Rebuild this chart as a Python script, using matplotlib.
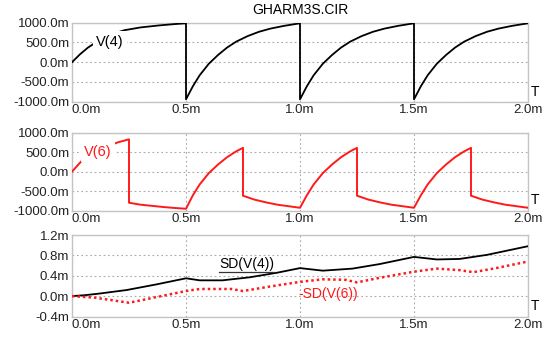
import numpy as np
import matplotlib
matplotlib.use('Agg')
import matplotlib.pyplot as plt
from matplotlib.lines import Line2D

plt.rcParams['font.family'] = ['Liberation Sans', 'DejaVu Sans']

# time in ms, voltages in mV (axis labels carry the "m")
t4 = [0.0, 0.035, 0.07, 0.12, 0.17, 0.23, 0.30, 0.38, 0.45, 0.50,
      0.50, 0.53, 0.56, 0.60, 0.64, 0.68, 0.72, 0.77, 0.82, 0.87, 0.93, 1.00,
      1.00, 1.03, 1.06, 1.10, 1.14, 1.18, 1.22, 1.27, 1.32, 1.37, 1.43, 1.50,
      1.50, 1.53, 1.56, 1.60, 1.64, 1.68, 1.72, 1.77, 1.82, 1.87, 1.93, 2.00]
v4 = [0, 200, 370, 560, 700, 810, 880, 930, 965, 985,
      -940, -610, -330, -40, 180, 370, 520, 660, 770, 850, 920, 985,
      -940, -610, -330, -40, 180, 370, 520, 660, 770, 850, 920, 985,
      -940, -610, -330, -40, 180, 370, 520, 660, 770, 850, 920, 985]

t6 = [0.0, 0.04, 0.08, 0.12, 0.164, 0.20, 0.25,
      0.25, 0.30, 0.35, 0.40, 0.45, 0.50,
      0.53, 0.56, 0.60, 0.64, 0.68, 0.72, 0.75,
      0.75, 0.80, 0.85, 0.90, 0.95, 1.00,
      1.03, 1.06, 1.10, 1.14, 1.18, 1.22, 1.25,
      1.25, 1.30, 1.35, 1.40, 1.45, 1.50,
      1.53, 1.56, 1.60, 1.64, 1.68, 1.72, 1.75,
      1.75, 1.80, 1.85, 1.90, 1.95, 2.00]
v6 = [0, 260, 430, 560, 667, 750, 830,
      -800, -850, -880, -910, -935, -955,
      -610, -330, -40, 180, 370, 520, 610,
      -620, -720, -790, -850, -890, -930,
      -610, -330, -40, 180, 370, 520, 610,
      -620, -720, -790, -850, -890, -930,
      -610, -330, -40, 180, 370, 520, 610,
      -620, -720, -790, -850, -890, -930]

t_sd4 = [0.0, 0.06, 0.12, 0.24, 0.37, 0.50, 0.56, 0.66, 0.78, 0.90, 1.00,
         1.10, 1.23, 1.35, 1.50, 1.60, 1.70, 1.82, 2.00]
sd4 = [0.0, 0.02, 0.05, 0.12, 0.23, 0.35, 0.31, 0.31, 0.37, 0.46, 0.55,
       0.50, 0.54, 0.63, 0.77, 0.72, 0.73, 0.81, 0.98]

t_sd6 = [0.0, 0.10, 0.25, 0.50, 0.56, 0.70, 0.75, 0.87, 1.00, 1.10, 1.20,
         1.25, 1.35, 1.50, 1.60, 1.70, 1.76, 1.86, 2.00]
sd6 = [0.0, -0.03, -0.13, 0.10, 0.14, 0.14, 0.10, 0.19, 0.28, 0.33, 0.32,
       0.27, 0.36, 0.48, 0.54, 0.51, 0.47, 0.55, 0.68]

xticks = [0.0, 0.5, 1.0, 1.5, 2.0]
vticks = [-1000, -500, 0, 500, 1000]
sdticks = [-0.4, 0.0, 0.4, 0.8, 1.2]

W, H = 544, 338
fig = plt.figure(figsize=(W / 100, H / 100), dpi=100)
left, width = 72 / W, 456 / W
ax1 = fig.add_axes([left, 1 - 101.7 / H, width, 79 / H])
ax2 = fig.add_axes([left, 1 - 210.5 / H, width, 77.8 / H])
ax3 = fig.add_axes([left, 1 - 316.5 / H, width, 81.5 / H])

grid_col = '#a8a8a8'
for ax in (ax1, ax2, ax3):
    ax.set_xlim(0, 2.0)
    ax.set_xticks(xticks)
    ax.set_xticklabels(['%.1fm' % x for x in xticks], fontsize=9.5)
    ax.get_xticklabels()[0].set_ha('left')
    ax.tick_params(length=0, pad=2, labelsize=9.5, colors='#222222')
    for sp in ax.spines.values():
        sp.set_color('#c4c4c4')
        sp.set_linewidth(1.0)
    ax.grid(True, color=grid_col, linestyle=(0, (1.5, 2.5)), linewidth=0.8)
    ax.set_axisbelow(True)
    ax.text(1.006, 0.04, 'T', transform=ax.transAxes, fontsize=10,
            ha='left', va='bottom')

for ax in (ax1, ax2):
    ax.set_ylim(-1000, 1000)
    ax.set_yticks(vticks)
    ax.set_yticklabels(['%.1fm' % v for v in vticks])

ax3.set_ylim(-0.4, 1.2)
ax3.set_yticks(sdticks)
ax3.set_yticklabels(['%.1fm' % v for v in sdticks])

ax1.plot(t4, v4, color='black', lw=1.3, zorder=3)
ax2.plot(t6, v6, color='#ff1a1a', lw=1.4, zorder=3)
ax3.plot(t_sd4, sd4, color='black', lw=1.3, zorder=3)
ax3.plot(t_sd6, sd6, color='#ff1a1a', lw=1.8, linestyle=(0, (1, 1.2)), zorder=3)

box = dict(boxstyle='square,pad=0.22', facecolor='white', edgecolor='none')
ax1.text(0.165, 520, 'V(4)', fontsize=10.5, ha='center', va='center',
         bbox=box, zorder=5)
ax2.text(0.112, 500, 'V(6)', fontsize=10.5, ha='center', va='center',
         color='#ff1a1a', bbox=box, zorder=5)
sd_lab = ax3.text(0.766, 0.64, 'SD(V(4))', fontsize=10, ha='center',
                  va='center', zorder=5)
ax3.text(1.125, 0.05, '-SD(V(6))', fontsize=10, ha='center', va='center',
         color='#ff1a1a', zorder=5)

fig.text(300 / W, 1 - 10 / H, 'GHARM3S.CIR', fontsize=10, ha='center',
         va='center')

# underline the SD(V(4)) label
fig.canvas.draw()
bb = sd_lab.get_window_extent(fig.canvas.get_renderer())
bb = bb.transformed(fig.transFigure.inverted())
fig.add_artist(Line2D([bb.x0, bb.x1], [bb.y0 - 0.004, bb.y0 - 0.004],
                      color='#333333', lw=0.9, transform=fig.transFigure))

fig.savefig('out.png', dpi=100)
